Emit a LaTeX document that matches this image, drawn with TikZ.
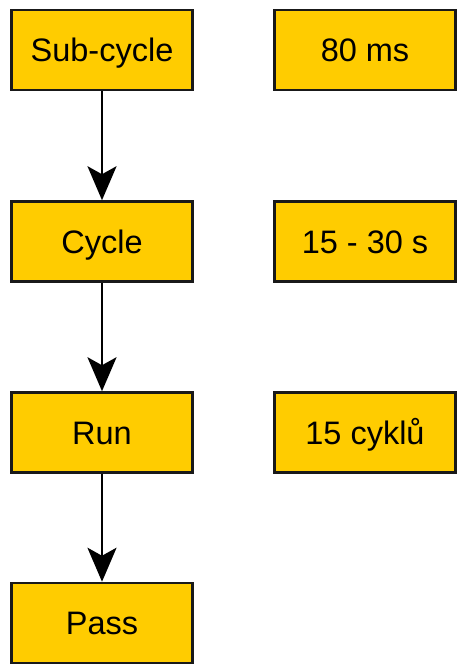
\documentclass[tikz,border=0pt]{standalone}
\usepackage{fontspec}
\setmainfont{Liberation Sans}
\usetikzlibrary{arrows.meta}
\definecolor{boxfill}{HTML}{FFCC00}
\begin{document}
\begin{tikzpicture}[x=1pt,y=-1pt,
  box/.style={draw=black!90, line width=2.5pt, fill=boxfill, minimum width=181pt, minimum height=80pt, inner sep=0pt, text height=23pt, text depth=0pt, font=\fontsize{32.5}{38}\selectfont},
  flow/.style={line width=2.2pt, -{Stealth[length=34pt,width=29pt,inset=8pt]}}]
\useasboundingbox (0,0) rectangle (457,664);
\node[box] (sub) at (102,50) {Sub-cycle};
\node[box] (cyc) at (102,241.5) {Cycle};
\node[box] (run) at (102,432.5) {Run};
\node[box] (pass) at (102,623) {Pass};
\node[box] (t1) at (365,50) {80 ms};
\node[box] (t2) at (365,241.5) {15 - 30 s};
\node[box] (t3) at (365,432.5) {15 cyklů};
\draw[flow] (sub) -- (cyc);
\draw[flow] (cyc) -- (run);
\draw[flow] (run) -- (pass);
\end{tikzpicture}
\end{document}
